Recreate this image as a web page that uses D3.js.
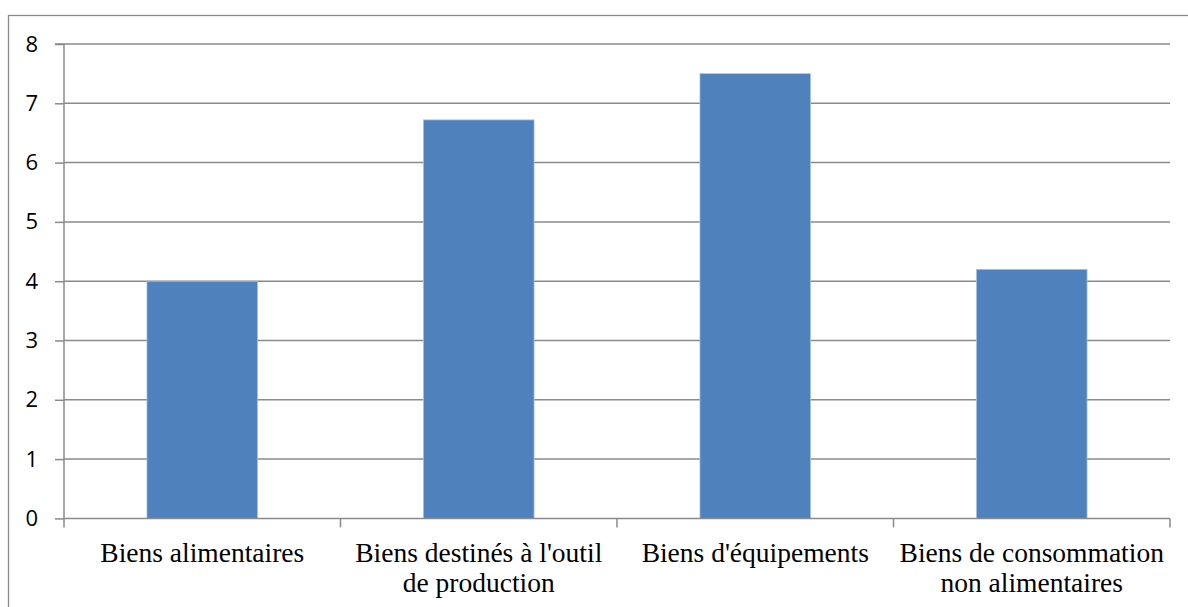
<!DOCTYPE html>
<html><head><meta charset="utf-8">
<script src="https://cdn.jsdelivr.net/npm/d3@7"></script>
<style>body{margin:0;background:#fff}svg{display:block}</style>
</head><body>
<svg id="c" width="1188" height="607"></svg>
<script>
const categories = [
  ["Biens alimentaires"],
  ["Biens destinés à l'outil", "de production"],
  ["Biens d'équipements"],
  ["Biens de consommation", "non alimentaires"]
];
const values = [4.0, 6.72, 7.5, 4.2];
const yTicks = [0, 1, 2, 3, 4, 5, 6, 7, 8];

const svg = d3.select("#c");
const x0 = 64, x1 = 1170, yTop = 44, yBot = 518.4;
const x = d3.scaleBand().domain(d3.range(categories.length)).range([x0, x1]).paddingInner(0.6).paddingOuter(0.3);
const xb = d3.scaleBand().domain(d3.range(categories.length)).range([x0, x1]);
const y = d3.scaleLinear().domain([0, 8]).range([yBot, yTop]);
const grid = "#8a8a8a";

svg.append("rect").attr("x", 8.5).attr("y", 15.5).attr("width", 1300).attr("height", 800)
  .attr("fill", "none").attr("stroke", grid).attr("stroke-width", 1.3);

// gridlines
svg.append("g").selectAll("line").data(yTicks.filter(d => d > 0)).join("line")
  .attr("x1", x0).attr("x2", x1).attr("y1", d => y(d)).attr("y2", d => y(d))
  .attr("stroke", grid).attr("stroke-width", 1.5);

// bars
svg.append("g").selectAll("rect").data(values).join("rect")
  .attr("x", (d, i) => x(i)).attr("width", x.bandwidth())
  .attr("y", d => y(d)).attr("height", d => yBot - y(d))
  .attr("fill", "#4F81BD").attr("stroke", "#a9c1df").attr("stroke-width", 0.8);

// y axis
const ya = d3.axisLeft(y).tickValues(yTicks).tickSize(9).tickPadding(17).tickFormat(d3.format("d"));
const gy = svg.append("g").attr("transform", `translate(${x0},0)`).call(ya);
gy.attr("font-size", null).attr("font-family", null);
gy.select(".domain").attr("stroke", grid).attr("stroke-width", 1.5).attr("d", `M-9,${yTop}H0V${yBot}`);
gy.selectAll(".tick line").attr("stroke", grid).attr("stroke-width", 1.5);
gy.selectAll(".tick text")
  .style("font-family", "'Open Sans', 'Liberation Sans', sans-serif")
  .style("font-size", "22px").attr("fill", "#000");

// x axis
const xa = d3.axisBottom(xb).tickSize(0).tickFormat("");
const gx = svg.append("g").attr("transform", `translate(0,${yBot})`).call(xa);
gx.select(".domain").attr("stroke", grid).attr("stroke-width", 1.5).attr("d", `M${x0},0H${x1}`);
gx.selectAll(".tick").remove();
const edges = d3.range(categories.length + 1).map(i => i < categories.length ? xb(i) : x1);
gx.selectAll("line.t").data(edges).join("line").attr("class", "t")
  .attr("x1", d => d).attr("x2", d => d).attr("y1", 0).attr("y2", 9)
  .attr("stroke", grid).attr("stroke-width", 1.5);

const lab = svg.append("g").selectAll("text").data(categories).join("text")
  .attr("x", (d, i) => xb(i) + xb.bandwidth() / 2).attr("y", 562)
  .attr("text-anchor", "middle")
  .style("font-family", "'Liberation Serif', 'Times New Roman', serif")
  .style("font-size", "27.5px").attr("fill", "#000");
lab.each(function(d, i) {
  const t = d3.select(this);
  d.forEach((s, j) => t.append("tspan").attr("x", xb(i) + xb.bandwidth() / 2).attr("dy", j ? 30 : 0).text(s));
});
</script>
</body></html>
